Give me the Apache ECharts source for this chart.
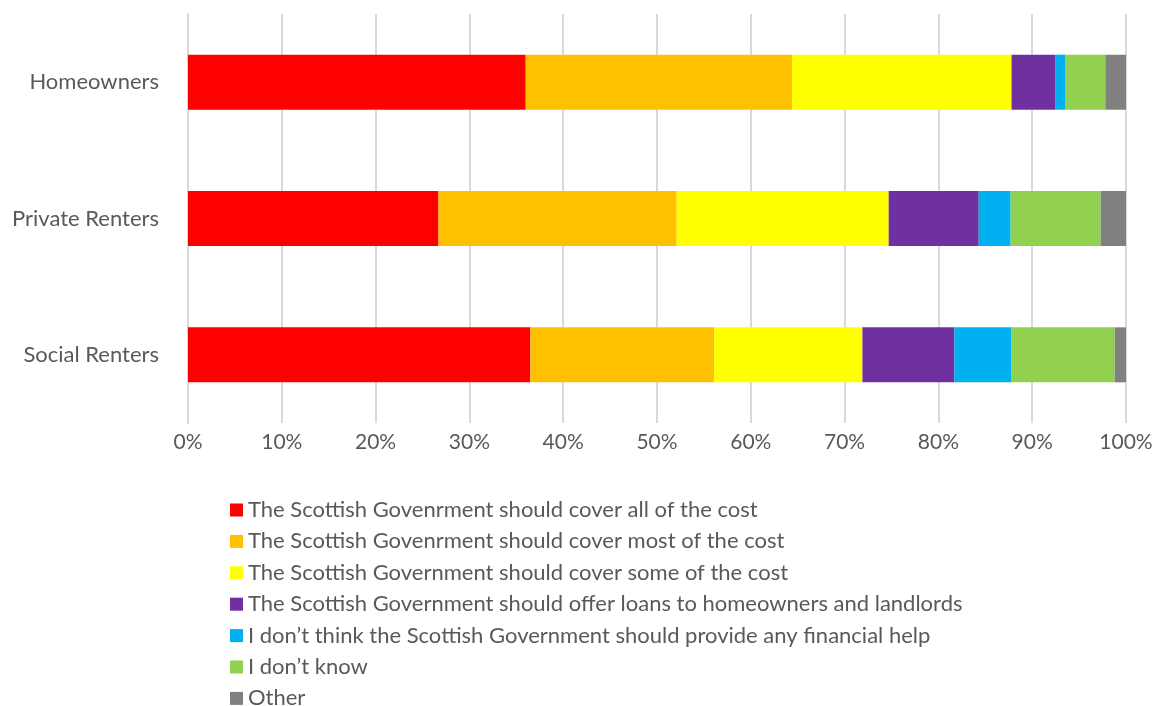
<!DOCTYPE html>
<html>
<head>
<meta charset="utf-8">
<script src="https://cdn.jsdelivr.net/npm/echarts@6/dist/echarts.min.js"></script>
<style>html,body{margin:0;padding:0;background:#fff;}#c{width:1161px;height:706px;}</style>
</head>
<body>
<div id="c"></div>
<script>
const categories = ['Homeowners', 'Private Renters', 'Social Renters'];
const seriesNames = [
  'The Scottish Govenrment should cover all of the cost',
  'The Scottish Govenrment should cover most of the cost',
  'The Scottish Government should cover some of the cost',
  'The Scottish Government should offer loans to homeowners and landlords',
  'I don\u2019t think the Scottish Government should provide any financial help',
  'I don\u2019t know',
  'Other'
];
const coverAll   = [36.0, 26.7, 36.5];
const coverMost  = [28.4, 25.4, 19.6];
const coverSome  = [23.4, 22.6, 15.8];
const offerLoans = [4.7, 9.6, 9.8];
const noHelp     = [1.0, 3.4, 6.1];
const dontKnow   = [4.3, 9.6, 11.0];
const other      = [2.2, 2.7, 1.2];
const seriesData = [coverAll, coverMost, coverSome, offerLoans, noHelp, dontKnow, other];
const colors = ['#FF0000', '#FFC000', '#FFFF00', '#7030A0', '#00B0F0', '#92D050', '#808080'];

const font = 'Lato, "Open Sans", sans-serif';
const chart = echarts.init(document.getElementById('c'));
chart.setOption({
  animation: false,
  color: colors,
  grid: { left: 188, right: 35, top: 14, bottom: 283, containLabel: false },
  xAxis: {
    type: 'value', min: 0, max: 100, interval: 10,
    axisLine: { show: false }, axisTick: { show: false },
    axisLabel: { formatter: '{value}%', color: '#595959', fontSize: 21, fontFamily: font, margin: 9 },
    splitLine: { lineStyle: { color: '#d9d9d9', width: 2 } }
  },
  yAxis: {
    type: 'category', data: categories, inverse: true,
    axisLine: { show: true, lineStyle: { color: '#d9d9d9', width: 2 } },
    axisTick: { show: false },
    axisLabel: { color: '#595959', fontSize: 22, fontFamily: font, margin: 29 }
  },
  legend: {
    orient: 'vertical', left: 230, top: 499, height: 260, padding: 0,
    itemWidth: 13, itemHeight: 13, itemGap: 9.4, icon: 'rect',
    textStyle: { color: '#595959', fontSize: 22, fontFamily: font, lineHeight: 22, padding: [0, 0, 0, 0] },
    data: seriesNames
  },
  series: seriesNames.map((n, i) => ({
    name: n, type: 'bar', stack: 'total', barWidth: 55,
    data: seriesData[i],
    itemStyle: { color: colors[i] }
  }))
});
</script>
</body>
</html>
